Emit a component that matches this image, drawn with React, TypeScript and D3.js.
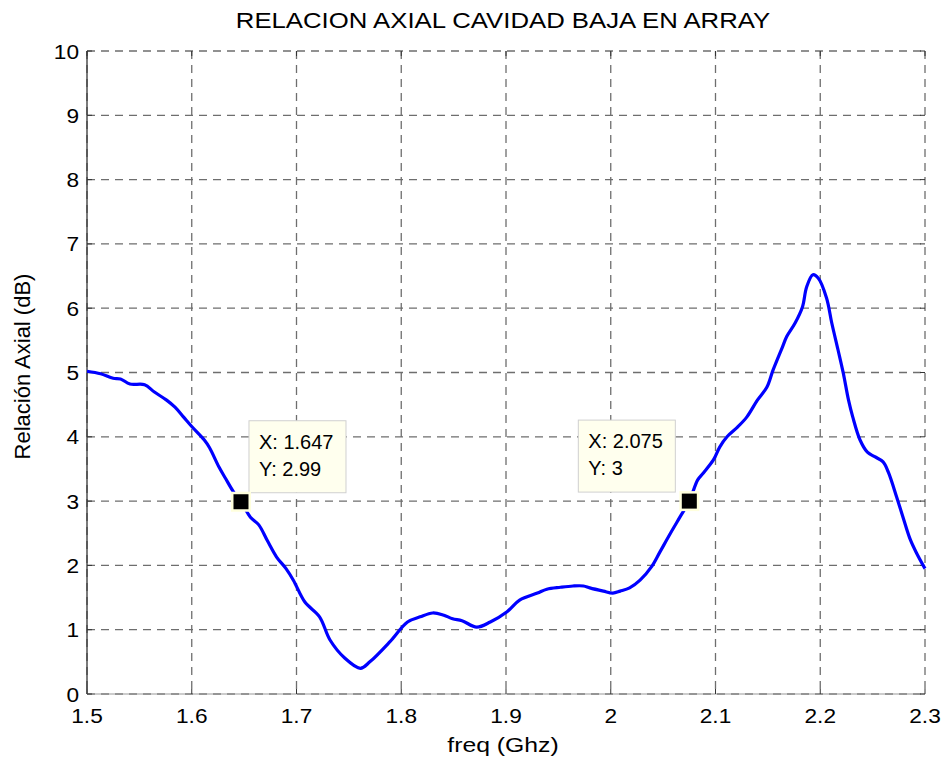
import * as d3 from 'd3';
import React, { useEffect, useRef } from 'react';

const freq = [
  1.5, 1.513, 1.525, 1.532, 1.541, 1.555, 1.564, 1.576, 1.584, 1.592, 1.6,
  1.612, 1.617, 1.626, 1.632, 1.64, 1.647, 1.656, 1.664, 1.672, 1.681, 1.69,
  1.697, 1.708, 1.722, 1.732, 1.746, 1.761, 1.77, 1.789, 1.806, 1.818, 1.83,
  1.84, 1.849, 1.858, 1.872, 1.885, 1.901, 1.913, 1.93, 1.939, 1.952, 1.964,
  1.974, 1.98, 1.993, 2.002, 2.009, 2.018, 2.028, 2.039, 2.047, 2.057, 2.066,
  2.075, 2.083, 2.088, 2.098, 2.104, 2.111, 2.121, 2.13, 2.14, 2.149, 2.155,
  2.164, 2.168, 2.176, 2.183, 2.187, 2.193, 2.198, 2.206, 2.211, 2.217, 2.222,
  2.227, 2.231, 2.238, 2.245, 2.252, 2.26, 2.265, 2.273, 2.279, 2.286, 2.292,
  2.3,
];
const ratio = [
  5.02, 4.98, 4.91, 4.9, 4.82, 4.81, 4.7, 4.57, 4.46, 4.31, 4.16,
  3.95, 3.83, 3.53, 3.36, 3.14, 2.99, 2.75, 2.63, 2.39, 2.13, 1.95,
  1.77, 1.43, 1.2, 0.84, 0.56, 0.4, 0.5, 0.81, 1.12, 1.2, 1.26,
  1.23, 1.17, 1.14, 1.04, 1.12, 1.28, 1.46, 1.57, 1.63, 1.66, 1.68,
  1.68, 1.65, 1.6, 1.57, 1.6, 1.65, 1.77, 1.98, 2.21, 2.5, 2.75,
  3.0, 3.33, 3.43, 3.64, 3.84, 4.0, 4.15, 4.31, 4.57, 4.77, 5.04,
  5.4, 5.56, 5.77, 6.02, 6.33, 6.52, 6.47, 6.16, 5.77, 5.35, 4.99,
  4.57, 4.31, 3.95, 3.76, 3.69, 3.61, 3.45, 3.06, 2.75, 2.4, 2.19,
  1.95,
];

const xTicks = [1.5, 1.6, 1.7, 1.8, 1.9, 2.0, 2.1, 2.2, 2.3];
const yTicks = [0, 1, 2, 3, 4, 5, 6, 7, 8, 9, 10];

// data tips: side = where the box sits relative to the point
const markers = [
  { x: 1.647, y: 2.99, side: 'right', label: ['X: 1.647', 'Y: 2.99'] },
  { x: 2.075, y: 3, side: 'left', label: ['X: 2.075', 'Y: 3'] },
];

const W = 949;
const H = 767;

const App: React.FC = () => {
  const ref = useRef<SVGSVGElement | null>(null);

  useEffect(() => {
    if (!ref.current) return;
    const root = d3.select(ref.current);
    root.selectAll('*').remove();

    const margin = { top: 51, right: 24, bottom: 73, left: 87 };
    const width = W - margin.left - margin.right;
    const height = H - margin.top - margin.bottom;
    const font = 'Arial, "Liberation Sans", sans-serif';

    root.append('rect').attr('width', W).attr('height', H).attr('fill', '#fff');

    const svg = root
      .append('g')
      .attr('transform', `translate(${margin.left},${margin.top})`);

    const x = d3.scaleLinear().domain([1.5, 2.3]).range([0, width]);
    const y = d3.scaleLinear().domain([0, 10]).range([height, 0]);

    // grid
    svg
      .selectAll('.gx')
      .data(xTicks)
      .enter()
      .append('line')
      .attr('x1', (d) => x(d))
      .attr('x2', (d) => x(d))
      .attr('y1', 0)
      .attr('y2', height)
      .attr('stroke', '#6e6e6e')
      .attr('stroke-dasharray', '8,6')
      .attr('stroke-width', 1.3);
    svg
      .selectAll('.gy')
      .data(yTicks)
      .enter()
      .append('line')
      .attr('x1', 0)
      .attr('x2', width)
      .attr('y1', (d) => y(d))
      .attr('y2', (d) => y(d))
      .attr('stroke', '#6e6e6e')
      .attr('stroke-dasharray', '8,6')
      .attr('stroke-width', 1.3);

    // axis lines + ticks
    svg
      .append('line')
      .attr('x1', 0)
      .attr('x2', 0)
      .attr('y1', 0)
      .attr('y2', height)
      .attr('stroke', '#333')
      .attr('stroke-width', 1.3);
    svg
      .append('line')
      .attr('x1', 0)
      .attr('x2', width)
      .attr('y1', height)
      .attr('y2', height)
      .attr('stroke', '#999')
      .attr('stroke-width', 1);

    const tk = 5;
    xTicks.forEach((d) => {
      svg.append('line').attr('x1', x(d)).attr('x2', x(d)).attr('y1', height).attr('y2', height - tk).attr('stroke', '#333');
      svg.append('line').attr('x1', x(d)).attr('x2', x(d)).attr('y1', 0).attr('y2', tk).attr('stroke', '#333');
    });
    yTicks.forEach((d) => {
      svg.append('line').attr('x1', 0).attr('x2', tk).attr('y1', y(d)).attr('y2', y(d)).attr('stroke', '#333');
      svg.append('line').attr('x1', width).attr('x2', width - tk).attr('y1', y(d)).attr('y2', y(d)).attr('stroke', '#333');
    });

    // tick labels
    svg
      .selectAll('.xl')
      .data(xTicks)
      .enter()
      .append('text')
      .attr('transform', (d) => `translate(${x(d)},${height + 29}) scale(1.08,1)`)
      .attr('text-anchor', 'middle')
      .style('font-family', font)
      .style('font-size', '21px')
      .text((d) => String(+d.toFixed(1)));
    svg
      .selectAll('.yl')
      .data(yTicks)
      .enter()
      .append('text')
      .attr('transform', (d) => `translate(-8,${y(d)}) scale(1.08,1)`)
      .attr('dy', '0.36em')
      .attr('text-anchor', 'end')
      .style('font-family', font)
      .style('font-size', '21px')
      .text((d) => String(d));

    // curve
    const pts = freq.map((f, i) => ({ f, v: ratio[i] }));
    const line = d3
      .line<{ f: number; v: number }>()
      .x((d) => x(d.f))
      .y((d) => y(d.v))
      .curve(d3.curveCatmullRom);
    svg
      .append('path')
      .datum(pts)
      .attr('fill', 'none')
      .attr('stroke', '#0000ff')
      .attr('stroke-width', 3.2)
      .attr('stroke-linejoin', 'round')
      .attr('d', line);

    // data tips
    markers.forEach((m) => {
      const cx = x(m.x);
      const cy = y(m.y);
      const bw = 97;
      const bx = m.side === 'right' ? cx + 8 : cx - 14 - bw;
      const by = cy - 81;
      svg
        .append('rect')
        .attr('x', bx)
        .attr('y', by)
        .attr('width', bw)
        .attr('height', 72)
        .attr('fill', '#ffffee')
        .attr('stroke', '#d0d0d0');
      m.label.forEach((t, i) => {
        svg
          .append('text')
          .attr('x', bx + 10)
          .attr('y', by + 28 + i * 27)
          .style('font-family', font)
          .style('font-size', '20px')
          .text(t);
      });
      svg
        .append('rect')
        .attr('x', cx - 10)
        .attr('y', cy - 10)
        .attr('width', 20)
        .attr('height', 20)
        .attr('fill', '#ffffdd');
      svg
        .append('rect')
        .attr('x', cx - 7.5)
        .attr('y', cy - 7.5)
        .attr('width', 15)
        .attr('height', 15)
        .attr('fill', '#000');
    });

    // title & axis labels
    root
      .append('text')
      .attr('transform', `translate(${margin.left + width / 2 - 3},28) scale(1.17,1)`)
      .attr('text-anchor', 'middle')
      .style('font-family', font)
      .style('font-size', '22px')
      .text('RELACION AXIAL CAVIDAD BAJA EN ARRAY');
    root
      .append('text')
      .attr('transform', `translate(${margin.left + width / 2 - 3},752) scale(1.18,1)`)
      .attr('text-anchor', 'middle')
      .style('font-family', font)
      .style('font-size', '21px')
      .text('freq (Ghz)');
    root
      .append('text')
      .attr('transform', `translate(30, ${margin.top + height / 2 - 6}) rotate(-90)`)
      .attr('text-anchor', 'middle')
      .style('font-family', font)
      .style('font-size', '22px')
      .text('Relación Axial (dB)');
  }, []);

  return <svg ref={ref} width={W} height={H} style={{ display: 'block', margin: -8 }} />;
};

export default App;
